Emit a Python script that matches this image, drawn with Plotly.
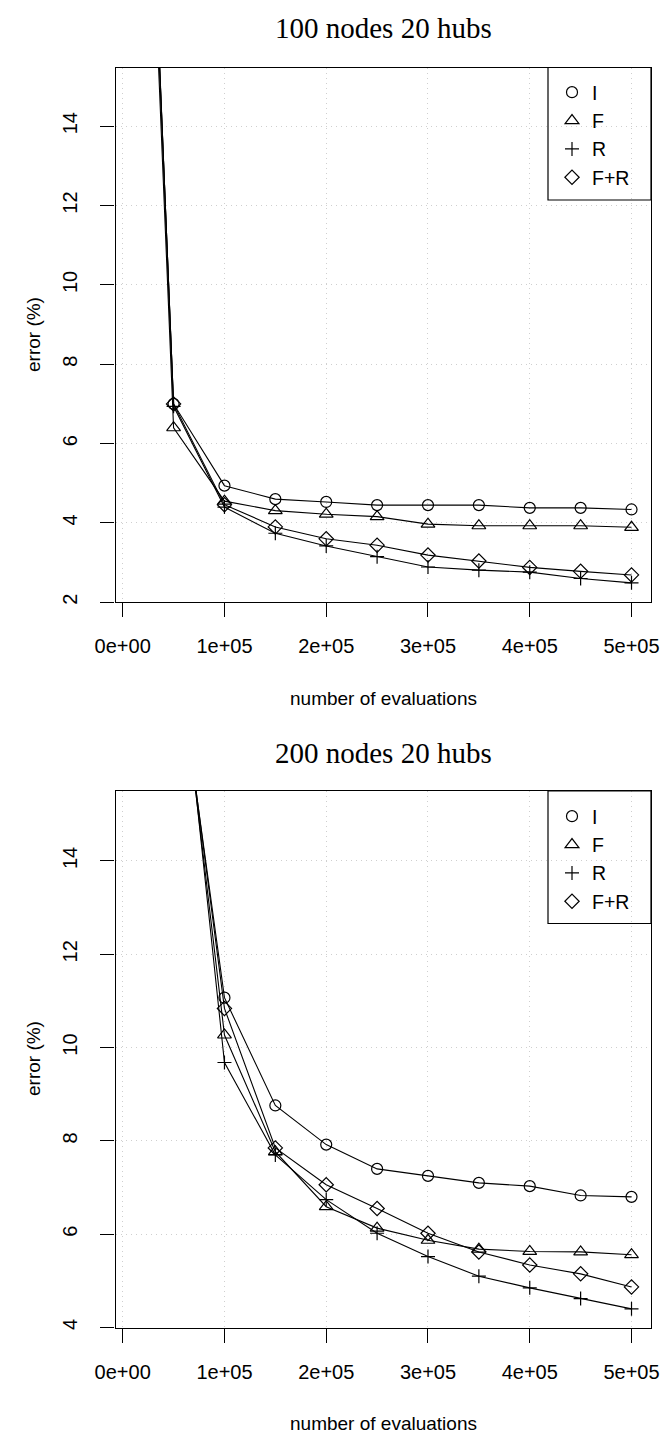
import plotly.graph_objects as go

# ---------------- data ----------------
evaluations = [12500, 50000, 100000, 150000, 200000, 250000, 300000, 350000, 400000, 450000, 500000]

top_I  = [30.2, 7.00, 4.94, 4.60, 4.53, 4.45, 4.45, 4.45, 4.38, 4.38, 4.34]
top_F  = [29.5, 6.40, 4.55, 4.31, 4.22, 4.16, 3.97, 3.93, 3.93, 3.93, 3.89]
top_R  = [30.5, 6.94, 4.40, 3.74, 3.42, 3.15, 2.89, 2.81, 2.76, 2.60, 2.49]
top_FR = [30.2, 7.00, 4.46, 3.90, 3.60, 3.44, 3.19, 3.04, 2.88, 2.78, 2.69]

bot_I  = [35.0, 19.0, 11.07, 8.76, 7.92, 7.40, 7.25, 7.10, 7.03, 6.83, 6.80]
bot_F  = [35.5, 19.5, 10.27, 7.77, 6.59, 6.13, 5.87, 5.68, 5.63, 5.62, 5.56]
bot_R  = [36.0, 20.0, 9.68, 7.70, 6.74, 6.02, 5.52, 5.10, 4.85, 4.62, 4.40]
bot_FR = [35.2, 19.2, 10.84, 7.85, 7.06, 6.55, 6.02, 5.62, 5.34, 5.15, 4.87]

series_names = ["I", "F", "R", "F+R"]
x_tickvals = [0, 100000, 200000, 300000, 400000, 500000]
x_ticktext = ["0e+00", "1e+05", "2e+05", "3e+05", "4e+05", "5e+05"]
top_yticks = [2, 4, 6, 8, 10, 12, 14]
bot_yticks = [4, 6, 8, 10, 12, 14]
titles = ["100 nodes 20 hubs", "200 nodes 20 hubs"]

# ---------------- styling ----------------
W, H = 666, 1439
symbols = ["circle-open", "triangle-up-open", "cross-thin-open", "diamond-open"]
sizes = [11, 12, 10, 11]
SANS = "Liberation Sans, Arial, sans-serif"
SERIF = "Liberation Serif, Times New Roman, serif"

def py(p):  # pixel-from-top -> paper
    return 1 - p / H

def px(p):
    return p / W

X_DOM = [px(115.5), px(651)]
TOP_DOM = [py(602.3), py(67.5)]
BOT_DOM = [py(1327.5), py(791)]

fig = go.Figure()

panels = [
    ("x", "y", [top_I, top_F, top_R, top_FR], "legend"),
    ("x2", "y2", [bot_I, bot_F, bot_R, bot_FR], "legend2"),
]
for xa, ya, data, leg in panels:
    for name, vals, sym, sz in zip(series_names, data, symbols, sizes):
        fig.add_trace(go.Scatter(
            x=evaluations, y=vals, name=name, xaxis=xa, yaxis=ya,
            mode="lines+markers", showlegend=False,
            line=dict(color="black", width=1.1),
            marker=dict(symbol=sym, size=sz, color="black",
                        line=dict(color="black", width=1.2)),
            cliponaxis=True,
        ))
    # legend entries show only the symbol, as in the original
    for name, sym, sz in zip(series_names, symbols, sizes):
        fig.add_trace(go.Scatter(
            x=[None], y=[None], name=name, xaxis=xa, yaxis=ya,
            mode="markers", legend=leg, legendgroup=leg + name, showlegend=True,
            marker=dict(symbol=sym, size=sz, color="black",
                        line=dict(color="black", width=1.2)),
        ))

axis_common = dict(
    showline=True, mirror=True, linecolor="black", linewidth=1.2,
    ticks="outside", ticklen=14, tickwidth=1.2, tickcolor="black",
    showgrid=True, gridcolor="#cfcfcf", griddash="1px,4px", gridwidth=1,
    zeroline=False, tickfont=dict(family=SANS, size=20, color="black"),
)

xr = [-7070, 519150]
leg_common = dict(xanchor="left", yanchor="top", bgcolor="rgba(0,0,0,0)",
                  borderwidth=0, traceorder="grouped", tracegroupgap=0, itemwidth=30,
                  font=dict(family=SANS, size=19.5, color="black"))
fig.update_layout(
    width=W, height=H, margin=dict(l=0, r=0, t=0, b=0, autoexpand=False),
    paper_bgcolor="white", plot_bgcolor="white",
    xaxis=dict(domain=X_DOM, range=xr, tickvals=x_tickvals, ticktext=x_ticktext,
               anchor="y", ticklabelstandoff=12, **axis_common),
    yaxis=dict(domain=TOP_DOM, range=[2.0, 15.48], tickvals=top_yticks,
               tickangle=-90, anchor="x", ticklabelstandoff=15, **axis_common),
    xaxis2=dict(domain=X_DOM, range=xr, tickvals=x_tickvals, ticktext=x_ticktext,
                anchor="y2", ticklabelstandoff=12, **axis_common),
    yaxis2=dict(domain=BOT_DOM, range=[4.0, 15.5], tickvals=bot_yticks,
                tickangle=-90, anchor="x2", ticklabelstandoff=15, **axis_common),
    legend=dict(x=px(552), y=py(73), **leg_common),
    legend2=dict(x=px(552), y=py(797), **leg_common),
    showlegend=True,
)

# legend frames
for top, bottom in [(67.5, 200), (791, 923.5)]:
    fig.add_shape(type="rect", xref="paper", yref="paper",
                  x0=px(548), x1=X_DOM[1], y0=py(bottom), y1=py(top),
                  line=dict(color="black", width=1.2), fillcolor="rgba(0,0,0,0)")

# titles and axis titles
ann = []
for t, ty, xt, ey in [(titles[0], 28, 698, 335), (titles[1], 753, 1423, 1059)]:
    ann.append(dict(text=t, x=px(383), y=py(ty), xref="paper", yref="paper",
                    showarrow=False, xanchor="center", yanchor="middle",
                    font=dict(family=SERIF, size=29, color="black")))
    ann.append(dict(text="number of evaluations", x=px(383), y=py(xt), xref="paper",
                    yref="paper", showarrow=False, xanchor="center", yanchor="middle",
                    font=dict(family=SANS, size=19, color="black")))
    ann.append(dict(text="error (%)", x=px(33), y=py(ey), xref="paper", yref="paper",
                    showarrow=False, xanchor="center", yanchor="middle", textangle=-90,
                    font=dict(family=SANS, size=19, color="black")))
fig.update_layout(annotations=ann)

fig.write_html("out.html")
